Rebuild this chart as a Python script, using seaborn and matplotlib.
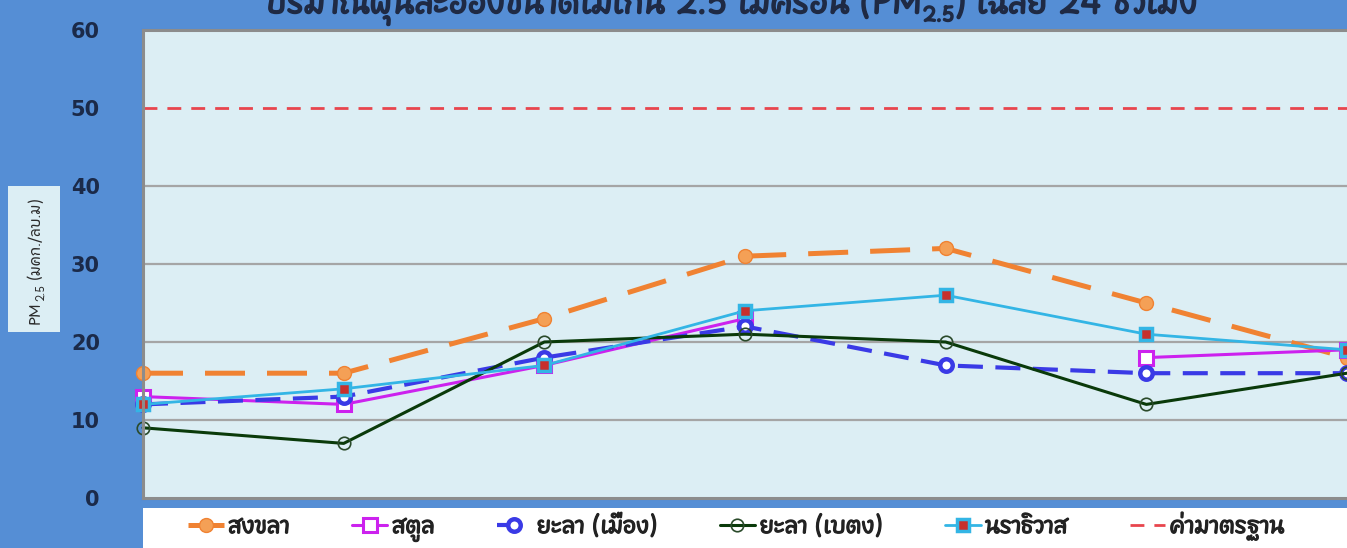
import numpy as np
import pandas as pd
import matplotlib
matplotlib.use("Agg")
import matplotlib.pyplot as plt
import matplotlib.patheffects as pe
from matplotlib import font_manager
from matplotlib.ft2font import FT2Font
from matplotlib.patches import Rectangle
import seaborn as sns

# daily 24h average PM2.5 (ug/m3), 7 days
days = [1, 2, 3, 4, 5, 6, 7]
songkhla = [16, 16, 23, 31, 32, 25, 18]
satun = [13, 12, 17, 23, np.nan, 18, 19]
yala_mueang = [12, 13, 18, 22, 17, 16, 16]
yala_betong = [9, 7, 20, 21, 20, 12, 16]
narathiwat = [12, 14, 17, 24, 26, 21, 19]
standard = [50, 50, 50, 50, 50, 50, 50]

labels = ["สงขลา", "สตูล", "ยะลา (เมือง)", "ยะลา (เบตง)", "นราธิวาส", "ค่ามาตรฐาน"]
yticks = [0, 10, 20, 30, 40, 50, 60]

sns.set_style("white")

# find a font that has thai glyphs
thai_font = None
for f in font_manager.fontManager.ttflist:
    try:
        if 0x0E2A in FT2Font(f.fname).get_charmap():
            if thai_font is None or "Thai" in f.name and "Looped" not in f.name:
                thai_font = f.name
    except Exception:
        pass
families = [thai_font, "DejaVu Sans"] if thai_font else ["DejaVu Sans"]
plt.rcParams["font.family"] = families

bg_outer = "#558ED5"
bg_plot = "#DCEEF4"
navy = "#1B2A49"


def fake_bold(w, c):
    return [pe.withStroke(linewidth=w, foreground=c)]


fig = plt.figure(figsize=(13.47, 5.48), dpi=100)
fig.patch.set_facecolor(bg_outer)
W, H = 1347, 548
ax = fig.add_axes([143 / W, 50 / H, 1 - 143 / W, 468 / H])
ax.set_facecolor(bg_plot)

styles = [
    dict(y=songkhla, color="#F08232", lw=3.6, ls=(0, (8, 4.4)), marker="o", ms=10,
         mfc="#F4A056", mec="#F08232", mew=1),
    dict(y=satun, color="#CC22EE", lw=2.2, ls="-", marker="s", ms=9.5,
         mfc="white", mec="#CC22EE", mew=2.2),
    dict(y=yala_mueang, color="#3A3AE6", lw=3, ls=(0, (6, 3)), marker="o", ms=9,
         mfc="white", mec="#3A3AE6", mew=3.2),
    dict(y=yala_betong, color="#0A3A0A", lw=2.2, ls="-", marker="o", ms=9,
         mfc="none", mec="#2A4A2A", mew=1.2),
    dict(y=narathiwat, color="#33B5E5", lw=2, ls="-", marker="s", ms=9,
         mfc="#C8302C", mec="#33B5E5", mew=2.5),
    dict(y=standard, color="#E8454D", lw=2, ls=(0, (5, 3.6)), marker=None, ms=0,
         mfc="none", mec="none", mew=0),
]

for lab, st in zip(labels, styles):
    df = pd.DataFrame({"day": days, "pm": st["y"]})
    # break the line where a value is missing
    df["run"] = df["pm"].isna().cumsum()
    df = df.dropna()
    first = True
    for _, part in df.groupby("run"):
        sns.lineplot(data=part, x="day", y="pm", ax=ax, color=st["color"], lw=st["lw"],
                     linestyle=st["ls"], marker=st["marker"], markersize=st["ms"],
                     markerfacecolor=st["mfc"], markeredgecolor=st["mec"],
                     markeredgewidth=st["mew"], clip_on=False,
                     label=lab if first else None, legend=False)
        first = False

ax.set_xlim(1, 7)
ax.set_ylim(0, 60)
ax.set_yticks(yticks)
ax.set_xticks([])
ax.set_xlabel("")
ax.set_ylabel("")
ax.tick_params(axis="y", length=0, pad=31, labelsize=15, labelcolor=navy)
for t in ax.get_yticklabels():
    t.set_fontfamily("DejaVu Sans")
    t.set_fontweight("bold")
ax.grid(axis="y", color="#A5A5A5", lw=1.6)
for v, gl in zip(yticks, ax.get_ygridlines()):
    if v in (0, 50, 60):
        gl.set_visible(False)
for s in ["left", "top", "bottom"]:
    ax.spines[s].set_color("#8C8C8C")
    ax.spines[s].set_linewidth(2.2)
ax.spines["right"].set_visible(False)

# legend strip
fig.patches.append(Rectangle((143 / W, 0), 1, 40 / H, transform=fig.transFigure,
                             facecolor="white", edgecolor="none", zorder=0))
handles, labs = ax.get_legend_handles_labels()
leg = fig.legend(handles, labs, loc="center left", bbox_to_anchor=(188 / W, 21 / H), ncol=6,
                 frameon=False, borderpad=0, borderaxespad=0, handlelength=1.6,
                 handletextpad=0.2, columnspacing=2.8, prop=dict(size=16))
for t in leg.get_texts():
    t.set_color("#222222")
    t.set_path_effects(fake_bold(0.9, "#222222"))

# y label box
fig.patches.append(Rectangle((8 / W, 216 / H), 52 / W, 146 / H, transform=fig.transFigure,
                             facecolor=bg_plot, edgecolor="none", zorder=0))


def put_parts(x0, y0, parts, rotation=0, **kw):
    r = fig.canvas.get_renderer()
    items = []
    for s, size, shift, gap in parts:
        t = fig.text(0, 0, s, fontsize=size, rotation=rotation, rotation_mode="anchor",
                     ha="left", va="baseline", **kw)
        bb = t.get_window_extent(renderer=r)
        items.append((t, shift, (bb.height if rotation else bb.width) + gap))
    pos = -sum(w for _, _, w in items) / 2
    for t, shift, w in items:
        if rotation:
            t.set_position(((x0 + shift) / W, (y0 + pos) / H))
        else:
            t.set_position(((x0 + pos) / W, (y0 - shift) / H))
        pos += w


put_parts(731, 535, [("ปริมาณฝุ่นละอองขนาดไม่เกิน 2.5 ไมครอน (PM", 23, 0, 0),
                     ("2.5", 14, 8, 0),
                     (") เฉลี่ย 24 ชั่วโมง", 23, 0, 0)],
          color="#1F2A44", path_effects=fake_bold(1.2, "#1F2A44"))

put_parts(40, 288, [("PM", 10.5, 0, 0), ("2.5", 7.5, 4, 5), ("(มคก./ลบ.ม)", 10.5, 0, 0)],
          rotation=90, color="#2A2A2A")

fig.savefig("out.png", dpi=100, facecolor=fig.get_facecolor())
